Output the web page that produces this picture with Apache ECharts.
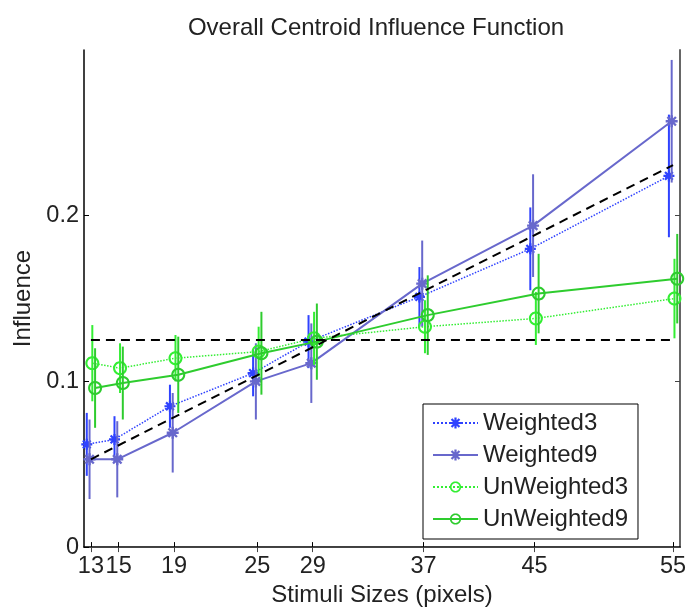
<!DOCTYPE html>
<html><head><meta charset="utf-8">
<script src="https://cdn.jsdelivr.net/npm/echarts@6/dist/echarts.min.js"></script>
<style>html,body{margin:0;padding:0;background:#fff}#c{width:699px;height:612px}</style>
</head><body><div id="c"></div>
<script>
// ---------- data ----------
const sizes = [13, 15, 19, 25, 29, 37, 45, 55];
const seriesNames = ['Weighted3', 'Weighted9', 'UnWeighted3', 'UnWeighted9'];
const weighted3      = [0.062, 0.065, 0.085, 0.105, 0.124, 0.151, 0.180, 0.224];
const weighted3Err   = [0.019, 0.014, 0.013, 0.014, 0.016, 0.018, 0.025, 0.037];
const weighted9      = [0.053, 0.053, 0.069, 0.100, 0.111, 0.159, 0.194, 0.257];
const weighted9Err   = [0.024, 0.023, 0.024, 0.023, 0.024, 0.026, 0.031, 0.037];
const unweighted3    = [0.111, 0.108, 0.114, 0.118, 0.126, 0.133, 0.138, 0.150];
const unweighted3Err = [0.023, 0.015, 0.014, 0.015, 0.016, 0.016, 0.016, 0.024];
const unweighted9    = [0.096, 0.099, 0.104, 0.117, 0.124, 0.140, 0.153, 0.162];
const unweighted9Err = [0.024, 0.022, 0.023, 0.025, 0.023, 0.024, 0.024, 0.027];
const xOffsets = [-0.3, -0.1, 0.1, 0.3];   // horizontal jitter of each series
const yTicks = [0, 0.1, 0.2];
const refX = [13, 55];
const uniformLevel = [0.125, 0.125];
const proportionalLine = [0.053, 0.2305];

// ---------- symbols ----------
function asteriskPath() {
  const t = 0.2, parts = [];
  for (const a of [0, 45, 90, 135]) {
    const r = a * Math.PI / 180, c = Math.cos(r), s = Math.sin(r);
    const pts = [[-1, -t], [1, -t], [1, t], [-1, t]].map(([x, y]) => [(x * c - y * s) * 10 + 10, (x * s + y * c) * 10 + 10]);
    parts.push('M' + pts.map(p => p[0].toFixed(2) + ' ' + p[1].toFixed(2)).join(' L') + ' Z');
  }
  return 'path://' + parts.join(' ');
}
function ringPath() {
  const n = 48, R = 10, r = 7;
  const outer = [], inner = [];
  for (let i = 0; i < n; i++) {
    const a = 2 * Math.PI * i / n;
    outer.push([10 + R * Math.cos(a), 10 + R * Math.sin(a)]);
    inner.push([10 + r * Math.cos(-a), 10 + r * Math.sin(-a)]);
  }
  const f = pts => 'M' + pts.map(p => p[0].toFixed(2) + ' ' + p[1].toFixed(2)).join(' L') + ' Z';
  return 'path://' + f(outer) + ' ' + f(inner);
}
const STAR = asteriskPath(), RING = ringPath();

const styles = [
  { color: '#2f42ff', type: 'dotted', width: 1.5, symbol: STAR, size: 11 },
  { color: '#6868cc', type: 'solid',  width: 2,   symbol: STAR, size: 12 },
  { color: '#33ee33', type: 'dotted', width: 1.5, symbol: RING, size: 14 },
  { color: '#2ecc2e', type: 'solid',  width: 2,   symbol: RING, size: 14 }
];
const values = [weighted3, weighted9, unweighted3, unweighted9];
const errors = [weighted3Err, weighted9Err, unweighted3Err, unweighted9Err];

const FONT = 'Liberation Sans';
const TXT = '#222';

const series = [];
values.forEach((vals, k) => {
  const st = styles[k], off = xOffsets[k], errs = errors[k];
  series.push({
    type: 'line', name: seriesNames[k],
    data: sizes.map((s, i) => [s + off, vals[i]]),
    symbol: st.symbol, symbolSize: st.size, showSymbol: true,
    itemStyle: { color: st.color },
    lineStyle: { color: st.color, type: st.type, width: st.width },
    z: 3 + k * 2, animation: false, silent: true
  });
  series.push({
    type: 'custom', name: seriesNames[k] + ' error',
    data: sizes.map((s, i) => [s + off, vals[i] - errs[i], vals[i] + errs[i]]),
    encode: { x: 0, y: [1, 2] },
    renderItem: (params, api) => {
      const x = api.value(0);
      const p1 = api.coord([x, api.value(1)]), p2 = api.coord([x, api.value(2)]);
      return { type: 'line', shape: { x1: p1[0], y1: p1[1], x2: p2[0], y2: p2[1] },
               style: { stroke: st.color, lineWidth: 2 } };
    },
    z: 2 + k * 2, animation: false, silent: true
  });
});
series.push({
  type: 'line', name: 'uniform', data: refX.map((x, i) => [x, uniformLevel[i]]),
  symbol: 'none', lineStyle: { color: '#000', width: 2, type: [9, 6] }, z: 20, animation: false, silent: true
});
series.push({
  type: 'line', name: 'proportional', data: refX.map((x, i) => [x, proportionalLine[i]]),
  symbol: 'none', lineStyle: { color: '#000', width: 2, type: [9, 6] }, z: 20, animation: false, silent: true
});

const chart = echarts.init(document.getElementById('c'), null, { renderer: 'canvas' });
chart.setOption({
  backgroundColor: '#fff',
  animation: false,
  textStyle: { fontFamily: FONT },
  title: {
    text: 'Overall Centroid Influence Function', left: 371, top: 11, textAlign: 'center',
    textStyle: { fontFamily: FONT, fontSize: 24, fontWeight: 'normal', color: TXT }
  },
  grid: { left: 84, right: 19, top: 50, bottom: 57.5, containLabel: false },
  legend: {
    data: seriesNames, orient: 'vertical', left: 423, top: 404,
    itemWidth: 45, itemHeight: 14, itemGap: 8,
    padding: [7, 10, 8, 9], borderColor: '#000', borderWidth: 1, backgroundColor: '#fff',
    textStyle: { fontFamily: FONT, fontSize: 24, color: TXT }, selectedMode: false, z: 30
  },
  xAxis: [{
    type: 'value', min: 12.5, max: 55.5, position: 'bottom',
    name: 'Stimuli Sizes (pixels)', nameLocation: 'middle', nameGap: 33,
    nameTextStyle: { fontFamily: FONT, fontSize: 24, color: TXT },
    axisLine: { lineStyle: { color: '#000', width: 1.5 } },
    axisTick: { inside: true, length: 5, customValues: sizes, lineStyle: { color: '#000' } },
    axisLabel: { customValues: sizes, margin: 7, fontFamily: FONT, fontSize: 23.5, color: TXT },
    splitLine: { show: false }
  }, {
    type: 'value', min: 12.5, max: 55.5, position: 'top',
    axisLine: { lineStyle: { color: '#444', width: 1 } },
    axisTick: { inside: true, length: 5, customValues: sizes, lineStyle: { color: '#444' } },
    axisLabel: { show: false }, splitLine: { show: false }
  }],
  yAxis: [{
    type: 'value', min: 0, max: 0.3, position: 'left',
    name: 'Influence', nameLocation: 'middle', nameGap: 41,
    nameTextStyle: { fontFamily: FONT, fontSize: 24, color: TXT },
    axisLine: { show: true, lineStyle: { color: '#000', width: 1.5 } },
    axisTick: { show: true, inside: true, length: 5, customValues: yTicks, lineStyle: { color: '#000' } },
    axisLabel: { customValues: yTicks, margin: 5, fontFamily: FONT, fontSize: 23.5, color: TXT },
    splitLine: { show: false }
  }, {
    type: 'value', min: 0, max: 0.3, position: 'right',
    axisLine: { show: true, lineStyle: { color: '#666', width: 2 } },
    axisTick: { show: true, inside: true, length: 5, customValues: yTicks, lineStyle: { color: '#444' } },
    axisLabel: { show: false }, splitLine: { show: false }
  }],
  series: series
});
</script></body></html>
